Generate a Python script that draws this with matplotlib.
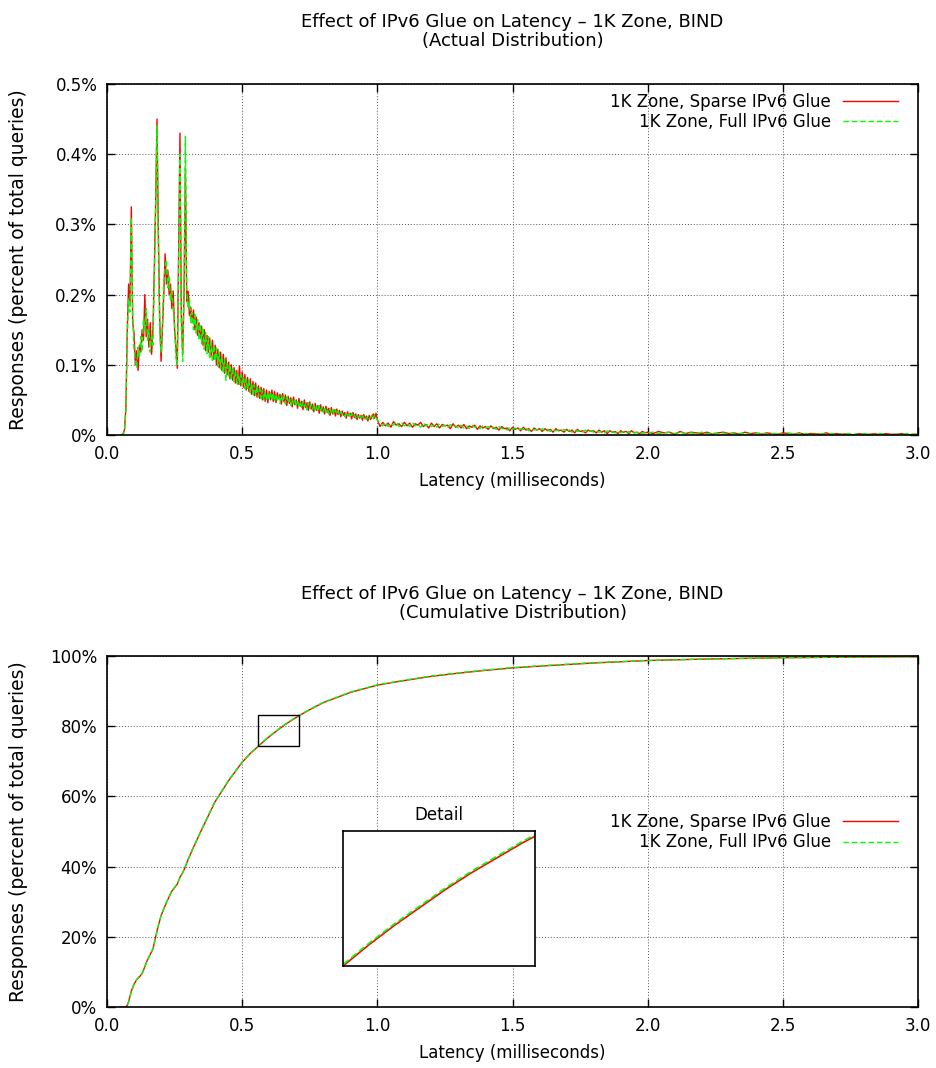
import numpy as np
import matplotlib.pyplot as plt
from matplotlib.patches import Rectangle
from matplotlib.ticker import FuncFormatter

plt.rcParams['font.family'] = ['DejaVu Sans']
plt.rcParams['font.size'] = 12

# latency bins (ms): fine bins near the peaks, coarser in the tail
latency = np.concatenate([np.arange(50, 601, 5), np.arange(605, 1001, 5),
                          np.arange(1010, 2001, 10), np.arange(2020, 3001, 20)]) / 1000.0

# responses per bin, in thousandths of a percent of total queries
sparse_glue = [
    # 0.050 - 0.600
    0, 0, 2, 8, 40, 150, 215, 185, 325, 160,
    145, 100, 120, 92, 128, 118, 150, 135, 200, 140,
    165, 125, 160, 115, 150, 235, 330, 450, 290, 165,
    105, 150, 200, 258, 215, 235, 200, 215, 180, 205,
    150, 125, 95, 260, 430, 170, 115, 200, 380, 190,
    205, 170, 182, 160, 178, 150, 168, 142, 160, 138,
    155, 128, 150, 120, 142, 118, 138, 112, 135, 108,
    128, 100, 122, 96, 118, 92, 115, 88, 110, 86,
    104, 80, 100, 78, 96, 74, 92, 72, 98, 70,
    90, 68, 86, 64, 82, 62, 80, 58, 76, 56,
    74, 54, 70, 52, 68, 50, 66, 48, 64, 46,
    62,
    # 0.605 - 1.000
    50, 64, 48, 62, 46, 60, 52, 58, 44, 59,
    47, 57, 42, 55, 45, 53, 40, 54, 43, 50,
    38, 52, 41, 48, 36, 50, 39, 46, 35, 47,
    37, 44, 33, 45, 35, 42, 31, 43, 34, 40,
    30, 41, 32, 38, 28, 39, 30, 36, 27, 37,
    29, 35, 26, 34, 28, 32, 24, 33, 27, 31,
    23, 32, 25, 30, 22, 29, 24, 28, 21, 29,
    23, 27, 20, 28, 22, 26, 30, 24, 31, 22,
    # 1.01 - 2.00
    12, 18, 13, 17, 11, 19, 14, 16, 12, 18,
    13, 17, 11, 16, 14, 18, 12, 15, 10, 17,
    12, 16, 10, 15, 13, 14, 9, 16, 11, 14,
    10, 15, 9, 13, 11, 14, 8, 13, 10, 12,
    8, 13, 9, 11, 7, 12, 9, 10, 6, 11,
    8, 10, 6, 11, 7, 9, 5, 10, 7, 9,
    5, 9, 6, 8, 4, 9, 6, 7, 4, 8,
    5, 7, 3, 8, 5, 6, 3, 7, 5, 6,
    3, 7, 4, 6, 2, 6, 4, 5, 2, 6,
    4, 5, 2, 6, 3, 4, 2, 5, 3, 4,
    # 2.02 - 3.00
    2, 5, 3, 4, 1, 5, 2, 4, 3, 2,
    4, 1, 3, 4, 2, 3, 1, 4, 2, 3,
    1, 3, 2, 1, 3, 2, 1, 3, 1, 2,
    2, 1, 3, 1, 2, 1, 2, 0, 2, 1,
    1, 2, 0, 2, 1, 1, 2, 0, 1, 1,
]
full_glue = [
    # 0.050 - 0.600
    0, 0, 1, 6, 35, 140, 195, 175, 310, 175,
    120, 108, 95, 125, 110, 140, 120, 165, 150, 180,
    135, 150, 118, 140, 128, 220, 320, 440, 270, 150,
    118, 160, 215, 240, 250, 210, 228, 190, 205, 178,
    160, 110, 100, 235, 400, 160, 105, 215, 425, 205,
    180, 195, 160, 175, 150, 172, 145, 165, 135, 158,
    130, 152, 122, 146, 116, 140, 110, 132, 104, 128,
    106, 124, 98, 118, 94, 112, 90, 108, 78, 104,
    84, 100, 80, 96, 76, 92, 74, 88, 72, 86,
    70, 84, 66, 80, 64, 78, 60, 74, 58, 72,
    56, 70, 54, 66, 52, 64, 50, 62, 48, 60,
    50,
    # 0.605 - 1.000
    62, 49, 60, 47, 58, 50, 56, 45, 57, 48,
    55, 44, 54, 46, 51, 42, 52, 44, 49, 40,
    50, 42, 47, 38, 48, 40, 45, 36, 46, 38,
    43, 35, 44, 36, 41, 33, 42, 35, 39, 32,
    40, 33, 37, 30, 38, 31, 35, 29, 36, 30,
    34, 28, 33, 29, 31, 26, 32, 28, 30, 25,
    31, 26, 29, 24, 28, 25, 27, 23, 28, 24,
    26, 22, 27, 23, 25, 28, 23, 29, 26, 21,
    # 1.01 - 2.00
    17, 13, 18, 12, 16, 14, 19, 12, 17, 13,
    16, 12, 18, 13, 15, 11, 17, 13, 16, 12,
    15, 11, 16, 12, 14, 10, 15, 12, 13, 10,
    14, 10, 13, 9, 14, 11, 12, 9, 13, 10,
    12, 9, 11, 8, 12, 9, 10, 7, 11, 8,
    10, 7, 9, 8, 10, 6, 9, 7, 8, 6,
    9, 6, 8, 5, 8, 6, 7, 5, 8, 5,
    7, 4, 7, 5, 6, 4, 7, 4, 6, 4,
    6, 4, 5, 3, 6, 4, 5, 3, 5, 3,
    5, 3, 5, 2, 4, 3, 5, 2, 4, 3,
    # 2.02 - 3.00
    4, 2, 3, 4, 2, 4, 2, 3, 2, 4,
    2, 3, 2, 3, 1, 3, 2, 3, 1, 2,
    3, 1, 2, 2, 1, 3, 1, 2, 2, 1,
    1, 2, 1, 2, 1, 1, 2, 1, 1, 2,
    1, 1, 2, 1, 0, 1, 1, 2, 1, 1,
]

# cumulative distribution (percent of total queries)
cum_latency = [0.05, 0.07, 0.075, 0.08, 0.09, 0.10, 0.11, 0.12, 0.13, 0.14,
               0.15, 0.16, 0.17, 0.18, 0.19, 0.20, 0.22, 0.24, 0.26, 0.27,
               0.28, 0.29, 0.30, 0.32, 0.35, 0.40, 0.45, 0.50, 0.53, 0.56,
               0.58, 0.60, 0.62, 0.64, 0.66, 0.68, 0.70, 0.72, 0.75, 0.80,
               0.90, 1.00, 1.10, 1.20, 1.30, 1.40, 1.50, 1.60, 1.80, 2.00,
               2.20, 2.50, 2.80, 3.00]
cum_sparse = [0, 0, 0.5, 1.5, 4.5, 6.5, 7.8, 8.6, 9.5, 11.5,
              13.5, 15.0, 16.5, 20.0, 23.2, 26.0, 29.8, 33.0, 35.0, 37.0,
              38.2, 40.0, 42.0, 45.5, 50.5, 58.5, 64.5, 69.7, 72.2, 74.3,
              75.7, 77.0, 78.2, 79.4, 80.5, 81.5, 82.5, 83.4, 84.7, 86.7,
              89.6, 91.7, 93.0, 94.2, 95.1, 95.9, 96.6, 97.1, 98.0, 98.7,
              99.1, 99.5, 99.7, 99.8]
cum_full = [0, 0, 0.4, 1.4, 4.4, 6.4, 7.9, 8.7, 9.6, 11.6,
            13.4, 15.1, 16.6, 19.9, 23.1, 26.1, 29.9, 33.1, 35.1, 36.9,
            38.3, 40.1, 42.1, 45.6, 50.6, 58.6, 64.6, 69.8, 72.3, 74.4,
            75.8, 77.1, 78.3, 79.5, 80.6, 81.6, 82.6, 83.5, 84.8, 86.8,
            89.7, 91.8, 93.1, 94.3, 95.2, 96.0, 96.7, 97.2, 98.1, 98.7,
            99.1, 99.5, 99.7, 99.8]

labels = ['1K Zone, Sparse IPv6 Glue', '1K Zone, Full IPv6 Glue']


def style_axes(ax):
    ax.set_xlim(0, 3)
    ax.set_xticks([0, 0.5, 1.0, 1.5, 2.0, 2.5, 3.0])
    ax.xaxis.set_major_formatter(FuncFormatter(lambda v, p: '%.1f' % v))
    ax.grid(True, color='#555555', linestyle=(0, (1, 2)), linewidth=0.7)
    ax.tick_params(direction='in', length=6, width=1, top=True, right=True, pad=7)
    for s in ax.spines.values():
        s.set_linewidth(1.2)
    ax.set_xlabel('Latency (milliseconds)', labelpad=7)
    ax.set_ylabel('Responses (percent of total queries)', fontsize=13.5)
    ax.yaxis.set_label_coords(-0.097, 0.5)


fig = plt.figure(figsize=(9.36, 10.68), dpi=100)

# ---- actual distribution
ax1 = fig.add_axes([0.1143, 0.5927, 0.8665, 0.3287])
ax1.plot(latency, np.array(sparse_glue) / 1000.0, color='#ff0000', lw=1.0, label=labels[0])
ax1.plot(latency, np.array(full_glue) / 1000.0, color='#00ff00', lw=1.0,
         dashes=(4, 2), label=labels[1])
ax1.set_ylim(0, 0.5)
ax1.set_yticks([0, 0.1, 0.2, 0.3, 0.4, 0.5])
ax1.yaxis.set_major_formatter(FuncFormatter(lambda v, p: '0%' if v == 0 else '%.1f%%' % v))
style_axes(ax1)
ax1.set_title('Effect of IPv6 Glue on Latency – 1K Zone, BIND\n(Actual Distribution)',
              pad=27, linespacing=1.12, fontsize=13)
ax1.legend(loc='upper right', bbox_to_anchor=(0.975, 0.975), frameon=False,
           markerfirst=False, handlelength=3.3, handletextpad=0.7,
           labelspacing=0.15, borderaxespad=0, borderpad=0)

# ---- cumulative distribution
ax2 = fig.add_axes([0.1143, 0.0571, 0.8665, 0.3287])
ax2.plot(cum_latency, cum_sparse, color='#ff0000', lw=1.0, label=labels[0])
ax2.plot(cum_latency, cum_full, color='#00ff00', lw=1.0, dashes=(4, 2), label=labels[1])
ax2.set_ylim(0, 100)
ax2.set_yticks([0, 20, 40, 60, 80, 100])
ax2.yaxis.set_major_formatter(FuncFormatter(lambda v, p: '%d%%' % v))
style_axes(ax2)
ax2.set_title('Effect of IPv6 Glue on Latency – 1K Zone, BIND\n(Cumulative Distribution)',
              pad=27, linespacing=1.12, fontsize=13)
ax2.legend(loc='upper right', bbox_to_anchor=(0.975, 0.553), frameon=False,
           markerfirst=False, handlelength=3.3, handletextpad=0.7,
           labelspacing=0.15, borderaxespad=0, borderpad=0)

# detail box + inset
x0, x1, y0, y1 = 0.56, 0.71, 74.3, 83.3
ax2.add_patch(Rectangle((x0, y0), x1 - x0, y1 - y0, fill=False, edgecolor='black', lw=1.0, zorder=5))

ins = fig.add_axes([0.3665, 0.0955, 0.2051, 0.1264])
ins.plot(cum_latency, cum_sparse, color='#ff0000', lw=1.2)
ins.plot(cum_latency, cum_full, color='#00ff00', lw=1.2, dashes=(4, 2))
ins.set_xlim(x0, x1)
ins.set_ylim(y0, y1)
ins.set_xticks([])
ins.set_yticks([])
for s in ins.spines.values():
    s.set_linewidth(1.2)
ins.set_title('Detail', pad=8, fontsize=12)

fig.savefig('out.png', dpi=100)
